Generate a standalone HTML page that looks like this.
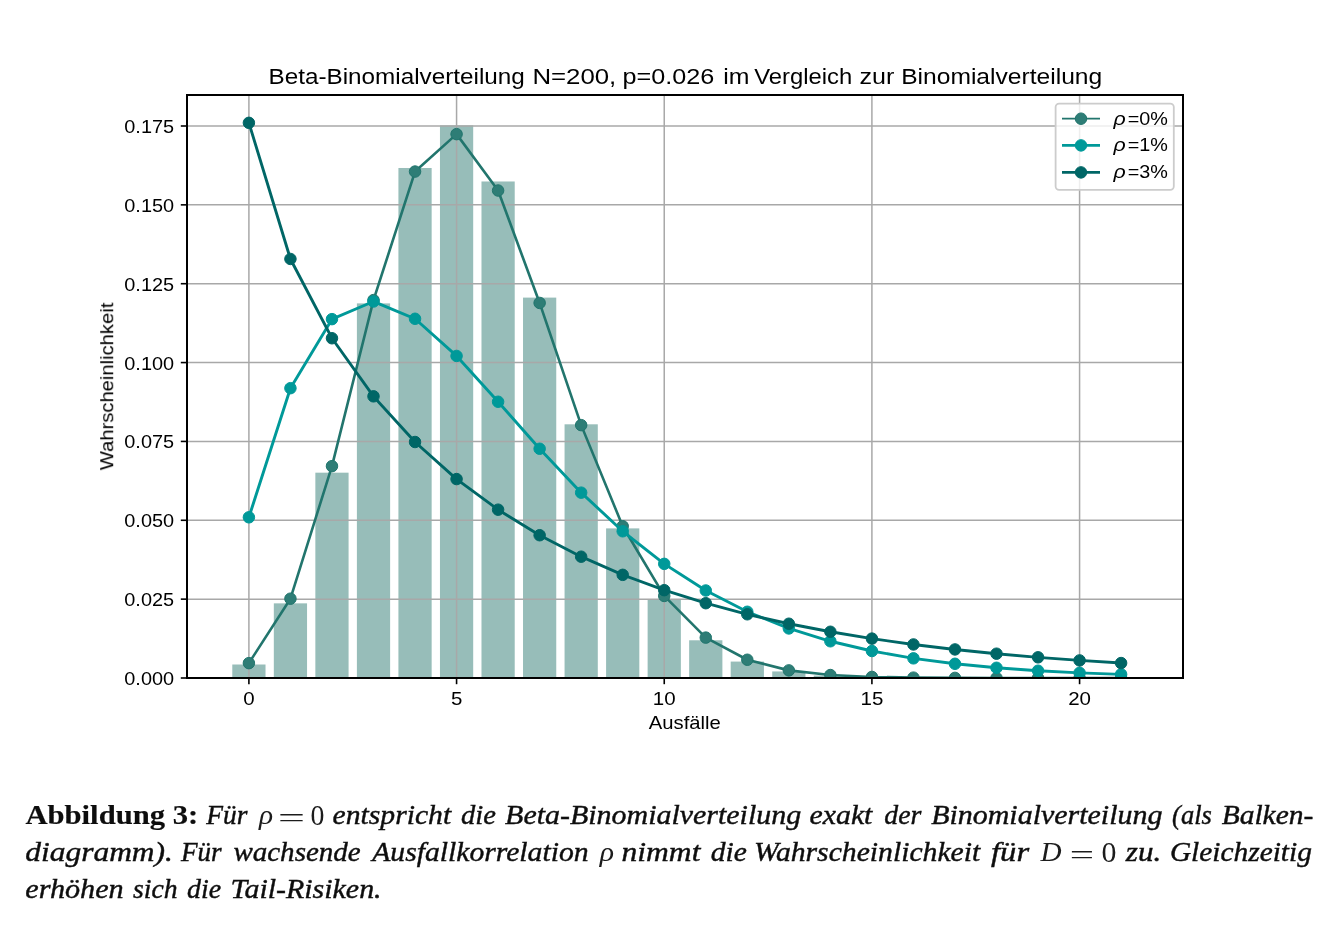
<!DOCTYPE html>
<html><head><meta charset="utf-8"><title>Abbildung 3</title>
<style>
html,body{margin:0;padding:0;background:#fff;}
body{width:1337px;height:942px;position:relative;overflow:hidden;font-family:"Liberation Sans",sans-serif;}
</style></head><body>
<svg width="1337" height="942" viewBox="0 0 1337 942" style="position:absolute;left:0;top:0">
<defs><clipPath id="ax"><rect x="187" y="95" width="996" height="583"/></clipPath><filter id="soft" x="0" y="0" width="1337" height="942" filterUnits="userSpaceOnUse"><feGaussianBlur stdDeviation="0.45"/></filter><filter id="soft2" x="0" y="780" width="1337" height="162" filterUnits="userSpaceOnUse"><feGaussianBlur stdDeviation="0.3"/></filter></defs>
<g id="chart" filter="url(#soft)">
<g clip-path="url(#ax)" fill="#97bdb9">
<rect x="232.29" y="664.50" width="33.23" height="13.50"/>
<rect x="273.82" y="603.35" width="33.23" height="74.65"/>
<rect x="315.35" y="472.68" width="33.23" height="205.32"/>
<rect x="356.89" y="303.39" width="33.23" height="374.61"/>
<rect x="398.42" y="167.99" width="33.23" height="510.01"/>
<rect x="439.96" y="125.34" width="33.23" height="552.66"/>
<rect x="481.49" y="181.48" width="33.23" height="496.52"/>
<rect x="523.02" y="297.60" width="33.23" height="380.40"/>
<rect x="564.56" y="424.31" width="33.23" height="253.69"/>
<rect x="606.09" y="528.39" width="33.23" height="149.61"/>
<rect x="647.63" y="599.01" width="33.23" height="78.99"/>
<rect x="689.16" y="640.28" width="33.23" height="37.72"/>
<rect x="730.69" y="661.58" width="33.23" height="16.42"/>
<rect x="772.23" y="671.44" width="33.23" height="6.56"/>
<rect x="813.76" y="675.58" width="33.23" height="2.42"/>
<rect x="855.30" y="677.17" width="33.23" height="0.83"/>
<rect x="896.83" y="677.73" width="33.23" height="0.27"/>
<rect x="938.36" y="677.92" width="33.23" height="0.08"/>
<rect x="979.90" y="677.98" width="33.23" height="0.02"/>
<rect x="1021.43" y="677.99" width="33.23" height="0.01"/>
<rect x="1062.97" y="678.00" width="33.23" height="0.00"/>
<rect x="1104.50" y="678.00" width="33.23" height="0.00"/>
</g>
<g stroke="#a8a8a8" stroke-width="1.5" fill="none">
<line x1="248.90" y1="95" x2="248.90" y2="678"/>
<line x1="456.57" y1="95" x2="456.57" y2="678"/>
<line x1="664.24" y1="95" x2="664.24" y2="678"/>
<line x1="871.91" y1="95" x2="871.91" y2="678"/>
<line x1="1079.58" y1="95" x2="1079.58" y2="678"/>
<line x1="187" y1="678.00" x2="1183" y2="678.00"/>
<line x1="187" y1="599.14" x2="1183" y2="599.14"/>
<line x1="187" y1="520.28" x2="1183" y2="520.28"/>
<line x1="187" y1="441.43" x2="1183" y2="441.43"/>
<line x1="187" y1="362.57" x2="1183" y2="362.57"/>
<line x1="187" y1="283.71" x2="1183" y2="283.71"/>
<line x1="187" y1="204.85" x2="1183" y2="204.85"/>
<line x1="187" y1="126.00" x2="1183" y2="126.00"/>
</g>
<g clip-path="url(#ax)">
<polyline fill="none" stroke="#21756d" stroke-width="2.6" stroke-linejoin="round" points="248.90,663.13 290.43,598.69 331.97,466.16 373.50,300.10 415.04,171.55 456.57,134.13 498.10,190.52 539.64,302.93 581.17,425.13 622.71,526.25 664.24,595.94 705.77,637.61 747.31,659.75 788.84,670.38 830.38,675.04 871.91,676.93 913.44,677.64 954.98,677.88 996.51,677.96 1038.05,677.99 1079.58,678.00 1121.11,678.00"/>
<g fill="#2e7d76" stroke="#21756d" stroke-width="1">
<circle cx="248.90" cy="663.13" r="5.75"/>
<circle cx="290.43" cy="598.69" r="5.75"/>
<circle cx="331.97" cy="466.16" r="5.75"/>
<circle cx="373.50" cy="300.10" r="5.75"/>
<circle cx="415.04" cy="171.55" r="5.75"/>
<circle cx="456.57" cy="134.13" r="5.75"/>
<circle cx="498.10" cy="190.52" r="5.75"/>
<circle cx="539.64" cy="302.93" r="5.75"/>
<circle cx="581.17" cy="425.13" r="5.75"/>
<circle cx="622.71" cy="526.25" r="5.75"/>
<circle cx="664.24" cy="595.94" r="5.75"/>
<circle cx="705.77" cy="637.61" r="5.75"/>
<circle cx="747.31" cy="659.75" r="5.75"/>
<circle cx="788.84" cy="670.38" r="5.75"/>
<circle cx="830.38" cy="675.04" r="5.75"/>
<circle cx="871.91" cy="676.93" r="5.75"/>
<circle cx="913.44" cy="677.64" r="5.75"/>
<circle cx="954.98" cy="677.88" r="5.75"/>
<circle cx="996.51" cy="677.96" r="5.75"/>
<circle cx="1038.05" cy="677.99" r="5.75"/>
<circle cx="1079.58" cy="678.00" r="5.75"/>
<circle cx="1121.11" cy="678.00" r="5.75"/>
</g>
<polyline fill="none" stroke="#009999" stroke-width="2.9" stroke-linejoin="round" points="248.90,517.31 290.43,388.20 331.97,319.14 373.50,301.49 415.04,318.78 456.57,355.95 498.10,401.75 539.64,448.76 581.17,492.66 622.71,531.27 664.24,563.85 705.77,590.50 747.31,611.77 788.84,628.44 830.38,641.27 871.91,651.03 913.44,658.35 954.98,663.79 996.51,667.79 1038.05,670.72 1079.58,672.83 1121.11,674.35"/>
<g fill="#009999" stroke="#009999" stroke-width="1">
<circle cx="248.90" cy="517.31" r="5.75"/>
<circle cx="290.43" cy="388.20" r="5.75"/>
<circle cx="331.97" cy="319.14" r="5.75"/>
<circle cx="373.50" cy="301.49" r="5.75"/>
<circle cx="415.04" cy="318.78" r="5.75"/>
<circle cx="456.57" cy="355.95" r="5.75"/>
<circle cx="498.10" cy="401.75" r="5.75"/>
<circle cx="539.64" cy="448.76" r="5.75"/>
<circle cx="581.17" cy="492.66" r="5.75"/>
<circle cx="622.71" cy="531.27" r="5.75"/>
<circle cx="664.24" cy="563.85" r="5.75"/>
<circle cx="705.77" cy="590.50" r="5.75"/>
<circle cx="747.31" cy="611.77" r="5.75"/>
<circle cx="788.84" cy="628.44" r="5.75"/>
<circle cx="830.38" cy="641.27" r="5.75"/>
<circle cx="871.91" cy="651.03" r="5.75"/>
<circle cx="913.44" cy="658.35" r="5.75"/>
<circle cx="954.98" cy="663.79" r="5.75"/>
<circle cx="996.51" cy="667.79" r="5.75"/>
<circle cx="1038.05" cy="670.72" r="5.75"/>
<circle cx="1079.58" cy="672.83" r="5.75"/>
<circle cx="1121.11" cy="674.35" r="5.75"/>
</g>
<polyline fill="none" stroke="#006666" stroke-width="2.9" stroke-linejoin="round" points="248.90,122.83 290.43,258.96 331.97,338.26 373.50,396.34 415.04,442.00 456.57,479.07 498.10,509.68 539.64,535.23 581.17,556.70 622.71,574.83 664.24,590.18 705.77,603.21 747.31,614.29 788.84,623.72 830.38,631.76 871.91,638.61 913.44,644.46 954.98,649.44 996.51,653.69 1038.05,657.32 1079.58,660.42 1121.11,663.06"/>
<g fill="#006666" stroke="#006666" stroke-width="1">
<circle cx="248.90" cy="122.83" r="5.75"/>
<circle cx="290.43" cy="258.96" r="5.75"/>
<circle cx="331.97" cy="338.26" r="5.75"/>
<circle cx="373.50" cy="396.34" r="5.75"/>
<circle cx="415.04" cy="442.00" r="5.75"/>
<circle cx="456.57" cy="479.07" r="5.75"/>
<circle cx="498.10" cy="509.68" r="5.75"/>
<circle cx="539.64" cy="535.23" r="5.75"/>
<circle cx="581.17" cy="556.70" r="5.75"/>
<circle cx="622.71" cy="574.83" r="5.75"/>
<circle cx="664.24" cy="590.18" r="5.75"/>
<circle cx="705.77" cy="603.21" r="5.75"/>
<circle cx="747.31" cy="614.29" r="5.75"/>
<circle cx="788.84" cy="623.72" r="5.75"/>
<circle cx="830.38" cy="631.76" r="5.75"/>
<circle cx="871.91" cy="638.61" r="5.75"/>
<circle cx="913.44" cy="644.46" r="5.75"/>
<circle cx="954.98" cy="649.44" r="5.75"/>
<circle cx="996.51" cy="653.69" r="5.75"/>
<circle cx="1038.05" cy="657.32" r="5.75"/>
<circle cx="1079.58" cy="660.42" r="5.75"/>
<circle cx="1121.11" cy="663.06" r="5.75"/>
</g>
</g>
<rect x="187" y="95" width="996" height="583" fill="none" stroke="#000" stroke-width="2"/>
<g stroke="#000" stroke-width="1.6">
<line x1="248.90" y1="679" x2="248.90" y2="684.2"/>
<line x1="456.57" y1="679" x2="456.57" y2="684.2"/>
<line x1="664.24" y1="679" x2="664.24" y2="684.2"/>
<line x1="871.91" y1="679" x2="871.91" y2="684.2"/>
<line x1="1079.58" y1="679" x2="1079.58" y2="684.2"/>
<line x1="180.8" y1="678.00" x2="186" y2="678.00"/>
<line x1="180.8" y1="599.14" x2="186" y2="599.14"/>
<line x1="180.8" y1="520.28" x2="186" y2="520.28"/>
<line x1="180.8" y1="441.43" x2="186" y2="441.43"/>
<line x1="180.8" y1="362.57" x2="186" y2="362.57"/>
<line x1="180.8" y1="283.71" x2="186" y2="283.71"/>
<line x1="180.8" y1="204.85" x2="186" y2="204.85"/>
<line x1="180.8" y1="126.00" x2="186" y2="126.00"/>
</g>
<g font-family="Liberation Sans, sans-serif" fill="#000">
<text x="243.2" y="704.6" font-size="18.2" text-anchor="start" textLength="11.4" lengthAdjust="spacingAndGlyphs">0</text>
<text x="450.9" y="704.6" font-size="18.2" text-anchor="start" textLength="11.4" lengthAdjust="spacingAndGlyphs">5</text>
<text x="652.8" y="704.6" font-size="18.2" text-anchor="start" textLength="22.8" lengthAdjust="spacingAndGlyphs">10</text>
<text x="860.5" y="704.6" font-size="18.2" text-anchor="start" textLength="22.8" lengthAdjust="spacingAndGlyphs">15</text>
<text x="1068.2" y="704.6" font-size="18.2" text-anchor="start" textLength="22.8" lengthAdjust="spacingAndGlyphs">20</text>
<text x="124.3" y="684.9" font-size="18.2" text-anchor="start" textLength="49.8" lengthAdjust="spacingAndGlyphs">0.000</text>
<text x="124.3" y="606.0" font-size="18.2" text-anchor="start" textLength="49.8" lengthAdjust="spacingAndGlyphs">0.025</text>
<text x="124.3" y="527.2" font-size="18.2" text-anchor="start" textLength="49.8" lengthAdjust="spacingAndGlyphs">0.050</text>
<text x="124.3" y="448.3" font-size="18.2" text-anchor="start" textLength="49.8" lengthAdjust="spacingAndGlyphs">0.075</text>
<text x="124.3" y="369.5" font-size="18.2" text-anchor="start" textLength="49.8" lengthAdjust="spacingAndGlyphs">0.100</text>
<text x="124.3" y="290.6" font-size="18.2" text-anchor="start" textLength="49.8" lengthAdjust="spacingAndGlyphs">0.125</text>
<text x="124.3" y="211.8" font-size="18.2" text-anchor="start" textLength="49.8" lengthAdjust="spacingAndGlyphs">0.150</text>
<text x="124.3" y="132.9" font-size="18.2" text-anchor="start" textLength="49.8" lengthAdjust="spacingAndGlyphs">0.175</text>
<text x="648.8" y="729.1" font-size="18.2" text-anchor="start" textLength="72.0" lengthAdjust="spacingAndGlyphs">Ausfälle</text>
<text transform="translate(113.2,470.2) rotate(-90)" font-size="18.2" textLength="167.5" lengthAdjust="spacingAndGlyphs">Wahrscheinlichkeit</text>
<text x="268.5" y="83.8" font-size="21.8" text-anchor="start" textLength="256.3" lengthAdjust="spacingAndGlyphs">Beta-Binomialverteilung</text>
<text x="532.4" y="83.8" font-size="21.8" text-anchor="start" textLength="83.9" lengthAdjust="spacingAndGlyphs">N=200,</text>
<text x="622.5" y="83.8" font-size="21.8" text-anchor="start" textLength="91.7" lengthAdjust="spacingAndGlyphs">p=0.026</text>
<text x="723.3" y="83.8" font-size="21.8" text-anchor="start" textLength="26.2" lengthAdjust="spacingAndGlyphs">im</text>
<text x="754.2" y="83.8" font-size="21.8" text-anchor="start" textLength="98.0" lengthAdjust="spacingAndGlyphs">Vergleich</text>
<text x="859.5" y="83.8" font-size="21.8" text-anchor="start" textLength="34.8" lengthAdjust="spacingAndGlyphs">zur</text>
<text x="901.2" y="83.8" font-size="21.8" text-anchor="start" textLength="201.0" lengthAdjust="spacingAndGlyphs">Binomialverteilung</text>
</g>
<rect x="1055.6" y="103.6" width="118.2" height="86.2" rx="3.5" ry="3.5" fill="#fff" fill-opacity="0.8" stroke="#cccccc" stroke-width="1.8"/>
<line x1="1062" y1="118.7" x2="1100" y2="118.7" stroke="#21756d" stroke-width="1.8"/>
<circle cx="1081" cy="118.7" r="5.75" fill="#2e7d76" stroke="#21756d" stroke-width="1"/>
<text x="1113.6" y="124.7" font-family="Liberation Sans, sans-serif" font-style="italic" font-size="17.6" textLength="12.2" lengthAdjust="spacingAndGlyphs">ρ</text>
<text x="1127.8" y="124.7" font-family="Liberation Sans, sans-serif" font-size="18.2" textLength="40.2" lengthAdjust="spacingAndGlyphs">=0%</text>
<line x1="1062" y1="145.4" x2="1100" y2="145.4" stroke="#009999" stroke-width="2.9"/>
<circle cx="1081" cy="145.4" r="5.75" fill="#009999" stroke="#009999" stroke-width="1"/>
<text x="1113.6" y="151.4" font-family="Liberation Sans, sans-serif" font-style="italic" font-size="17.6" textLength="12.2" lengthAdjust="spacingAndGlyphs">ρ</text>
<text x="1127.8" y="151.4" font-family="Liberation Sans, sans-serif" font-size="18.2" textLength="40.2" lengthAdjust="spacingAndGlyphs">=1%</text>
<line x1="1062" y1="172.4" x2="1100" y2="172.4" stroke="#006666" stroke-width="2.9"/>
<circle cx="1081" cy="172.4" r="5.75" fill="#006666" stroke="#006666" stroke-width="1"/>
<text x="1113.6" y="178.4" font-family="Liberation Sans, sans-serif" font-style="italic" font-size="17.6" textLength="12.2" lengthAdjust="spacingAndGlyphs">ρ</text>
<text x="1127.8" y="178.4" font-family="Liberation Sans, sans-serif" font-size="18.2" textLength="40.2" lengthAdjust="spacingAndGlyphs">=3%</text>
</g>
<g id="cap" filter="url(#soft2)" font-family="Liberation Serif, serif" fill="#0c0c0c" stroke="#0c0c0c" stroke-width="0.42">
<text x="25.4" y="824.2" font-size="28" font-weight="bold" stroke-width="0.15" textLength="172.9" lengthAdjust="spacingAndGlyphs">Abbildung 3:</text>
<text x="206.3" y="824.2" font-size="28" font-style="italic" textLength="41.1" lengthAdjust="spacingAndGlyphs">Für</text>
<text x="258.9" y="824.2" font-size="28" font-style="italic" stroke="none" fill="#1a1a1a" textLength="14.1" lengthAdjust="spacingAndGlyphs">ρ</text>
<text x="277.9" y="827.2" font-size="28" stroke="none" fill="#1a1a1a" textLength="27.0" lengthAdjust="spacingAndGlyphs">=</text>
<text x="310.4" y="825.4" font-size="29.8" stroke="none" fill="#1a1a1a" textLength="13.9" lengthAdjust="spacingAndGlyphs">0</text>
<text x="332.6" y="824.2" font-size="28" font-style="italic" textLength="118.6" lengthAdjust="spacingAndGlyphs">entspricht</text>
<text x="461.1" y="824.2" font-size="28" font-style="italic" textLength="34.9" lengthAdjust="spacingAndGlyphs">die</text>
<text x="505.1" y="824.2" font-size="28" font-style="italic" textLength="296.1" lengthAdjust="spacingAndGlyphs">Beta-Binomialverteilung</text>
<text x="809.5" y="824.2" font-size="28" font-style="italic" textLength="62.9" lengthAdjust="spacingAndGlyphs">exakt</text>
<text x="884.3" y="824.2" font-size="28" font-style="italic" textLength="37.1" lengthAdjust="spacingAndGlyphs">der</text>
<text x="931.2" y="824.2" font-size="28" font-style="italic" textLength="231.2" lengthAdjust="spacingAndGlyphs">Binomialverteilung</text>
<text x="1172.1" y="824.2" font-size="28" font-style="italic" textLength="39.7" lengthAdjust="spacingAndGlyphs">(als</text>
<text x="1221.7" y="824.2" font-size="28" font-style="italic" textLength="91.6" lengthAdjust="spacingAndGlyphs">Balken-</text>
<text x="25.3" y="861.0" font-size="28" font-style="italic" textLength="147.6" lengthAdjust="spacingAndGlyphs">diagramm).</text>
<text x="180.9" y="861.0" font-size="28" font-style="italic" textLength="40.6" lengthAdjust="spacingAndGlyphs">Für</text>
<text x="233.4" y="861.0" font-size="28" font-style="italic" textLength="127.3" lengthAdjust="spacingAndGlyphs">wachsende</text>
<text x="372.2" y="861.0" font-size="28" font-style="italic" textLength="216.4" lengthAdjust="spacingAndGlyphs">Ausfallkorrelation</text>
<text x="599.7" y="861.0" font-size="28" font-style="italic" stroke="none" fill="#1a1a1a" textLength="14.3" lengthAdjust="spacingAndGlyphs">ρ</text>
<text x="621.6" y="861.0" font-size="28" font-style="italic" textLength="78.8" lengthAdjust="spacingAndGlyphs">nimmt</text>
<text x="710.8" y="861.0" font-size="28" font-style="italic" textLength="36.1" lengthAdjust="spacingAndGlyphs">die</text>
<text x="753.9" y="861.0" font-size="28" font-style="italic" textLength="226.4" lengthAdjust="spacingAndGlyphs">Wahrscheinlichkeit</text>
<text x="991.0" y="861.0" font-size="28" font-style="italic" textLength="38.1" lengthAdjust="spacingAndGlyphs">für</text>
<text x="1040.4" y="861.0" font-size="28" font-style="italic" stroke="none" fill="#1a1a1a" textLength="21.1" lengthAdjust="spacingAndGlyphs">D</text>
<text x="1069.8" y="864.0" font-size="28" stroke="none" fill="#1a1a1a" textLength="24.3" lengthAdjust="spacingAndGlyphs">=</text>
<text x="1101.6" y="862.2" font-size="29.8" stroke="none" fill="#1a1a1a" textLength="14.9" lengthAdjust="spacingAndGlyphs">0</text>
<text x="1125.8" y="861.0" font-size="28" font-style="italic" textLength="35.4" lengthAdjust="spacingAndGlyphs">zu.</text>
<text x="1169.9" y="861.0" font-size="28" font-style="italic" textLength="142.0" lengthAdjust="spacingAndGlyphs">Gleichzeitig</text>
<text x="25.3" y="897.7" font-size="28" font-style="italic" textLength="98.4" lengthAdjust="spacingAndGlyphs">erhöhen</text>
<text x="133.0" y="897.7" font-size="28" font-style="italic" textLength="44.5" lengthAdjust="spacingAndGlyphs">sich</text>
<text x="187.0" y="897.7" font-size="28" font-style="italic" textLength="34.1" lengthAdjust="spacingAndGlyphs">die</text>
<text x="230.6" y="897.7" font-size="28" font-style="italic" textLength="151.0" lengthAdjust="spacingAndGlyphs">Tail-Risiken.</text>
</g>
</svg>
</body></html>
